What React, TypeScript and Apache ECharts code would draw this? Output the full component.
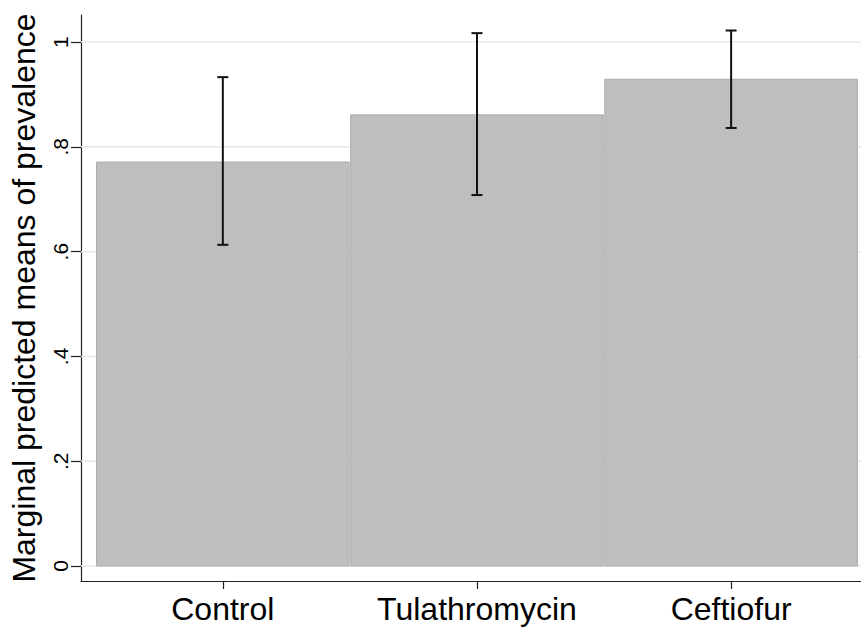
import React, { useEffect, useRef } from "react";
import * as echarts from "echarts";

const categories = ["Control", "Tulathromycin", "Ceftiofur"];
const positions = [1, 2, 3];
const means = [0.771, 0.861, 0.929];
const lowerCI = [0.613, 0.708, 0.836];
const upperCI = [0.933, 1.017, 1.022];
const yTickValues = [0, 0.2, 0.4, 0.6, 0.8, 1];
const yTickLabels = ["0", ".2", ".4", ".6", ".8", "1"];

const FONT = "'Liberation Sans', Arial, sans-serif";

export default function App() {
  const ref = useRef<HTMLDivElement>(null);
  useEffect(() => {
    if (!ref.current) return;
    const chart = echarts.init(ref.current, undefined, { renderer: "svg" });
    const barHalf = 0.497;
    const option: any = {
      animation: false,
      backgroundColor: "#ffffff",
      grid: { left: 80, top: 15, right: 0, bottom: 54 },
      xAxis: {
        type: "value",
        min: 0.442,
        max: 3.511,
        axisLine: { show: true, onZero: false, lineStyle: { color: "#222", width: 1.2 } },
        axisTick: { show: true, customValues: positions, length: 8, lineStyle: { color: "#222", width: 1.2 } },
        axisLabel: {
          customValues: positions,
          formatter: (v: number) => categories[positions.indexOf(Math.round(v))] ?? "",
          fontSize: 32,
          fontFamily: FONT,
          color: "#000",
          margin: 12,
        },
        splitLine: { show: false },
      },
      yAxis: {
        type: "value",
        min: -0.0286,
        max: 1.0516,
        name: "Marginal predicted means of prevalence",
        nameLocation: "middle",
        nameRotate: 90,
        nameGap: 41,
        nameTextStyle: { fontSize: 32, fontFamily: FONT, color: "#000" },
        axisLine: { show: true, lineStyle: { color: "#222", width: 1.2 } },
        axisTick: { show: true, customValues: yTickValues, length: 10, lineStyle: { color: "#222", width: 1.2 } },
        axisLabel: {
          customValues: yTickValues,
          formatter: (v: number) => {
            const i = yTickValues.findIndex((t) => Math.abs(t - v) < 1e-6);
            return i >= 0 ? yTickLabels[i] : "";
          },
          rotate: 90,
          fontSize: 21,
          fontFamily: FONT,
          color: "#000",
          margin: 10,
        },
        splitLine: { show: false },
      },
      series: [
        {
          type: "custom",
          z: 1,
          data: yTickValues.map((v) => [v]),
          renderItem: (params: any, api: any) => {
            const v = api.value(0);
            const p1 = api.coord([0.442, v]);
            const p2 = api.coord([3.511, v]);
            return {
              type: "line",
              shape: { x1: p1[0], y1: p1[1], x2: p2[0], y2: p2[1] },
              style: { stroke: "#e8e8e8", lineWidth: 1.5 },
            };
          },
        },
        {
          type: "custom",
          z: 2,
          data: positions.map((p, i) => [p, means[i]]),
          renderItem: (params: any, api: any) => {
            const x = api.value(0);
            const y = api.value(1);
            const tl = api.coord([x - barHalf, y]);
            const br = api.coord([x + barHalf, 0]);
            return {
              type: "rect",
              shape: { x: tl[0], y: tl[1], width: br[0] - tl[0], height: br[1] - tl[1] },
              style: { fill: "#bebebe", stroke: "#adadad", lineWidth: 1 },
            };
          },
        },
        {
          type: "custom",
          z: 3,
          data: positions.map((p, i) => [p, lowerCI[i], upperCI[i]]),
          renderItem: (params: any, api: any) => {
            const x = api.value(0);
            const lo = api.coord([x, api.value(1)]);
            const hi = api.coord([x, api.value(2)]);
            const cap = 5.5;
            const st = { stroke: "#111", lineWidth: 2 };
            return {
              type: "group",
              children: [
                { type: "line", shape: { x1: lo[0], y1: lo[1], x2: hi[0], y2: hi[1] }, style: st },
                { type: "line", shape: { x1: lo[0] - cap, y1: lo[1], x2: lo[0] + cap, y2: lo[1] }, style: st },
                { type: "line", shape: { x1: hi[0] - cap, y1: hi[1], x2: hi[0] + cap, y2: hi[1] }, style: st },
              ],
            };
          },
        },
      ],
    };
    chart.setOption(option);
    return () => chart.dispose();
  }, []);
  return (
    <div
      ref={ref}
      style={{ position: "fixed", left: 0, top: 0, width: 861, height: 635 }}
    />
  );
}
